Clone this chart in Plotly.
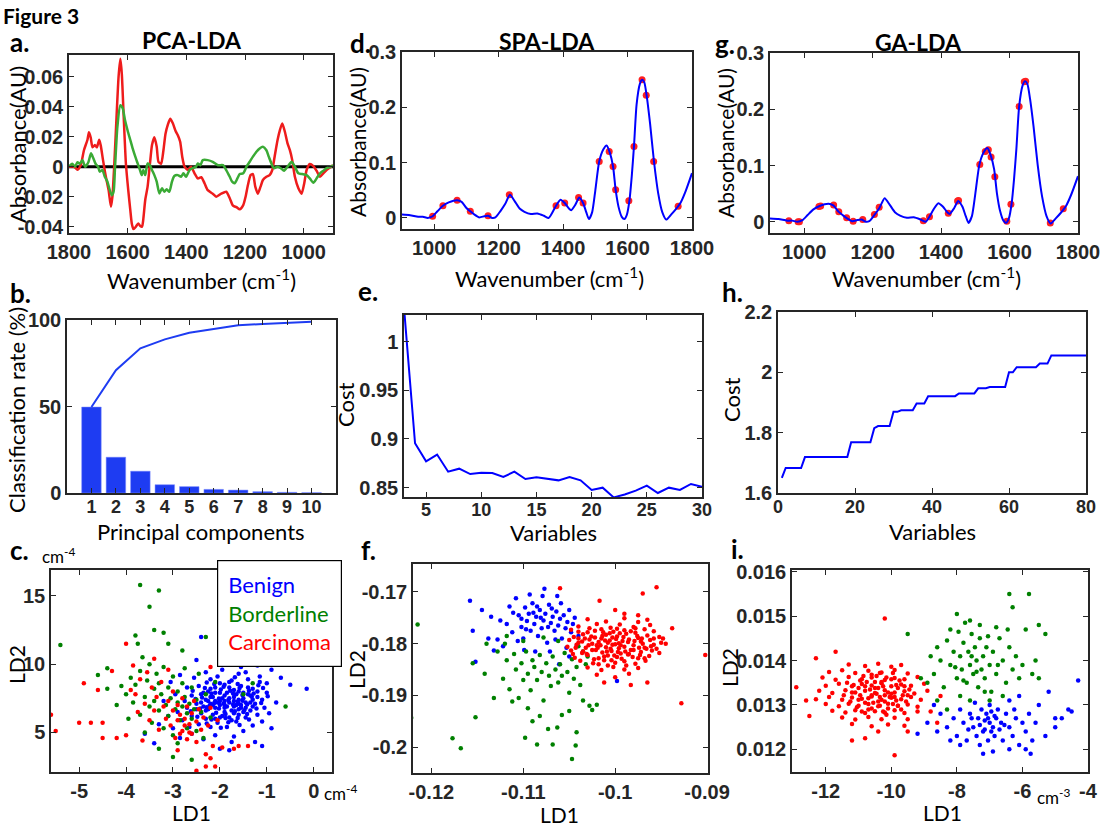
import plotly.graph_objects as go

W, H = 1100, 827

# ---------------- data ----------------
# Panel a: PCA-LDA loadings
a_red_wn = [1800,1783,1771,1760,1749,1737,1732,1726,1720,1711,1705,1697,1692,1684,1675,1665,1657,1652,1646,1638,1631,1625,1620,1614,1606,1598,1591,1586,1580,1572,1564,1557,1551,1547,1540,1532,1524,1517,1509,1501,1495,1486,1478,1471,1463,1455,1446,1437,1429,1421,1414,1406,1395,1384,1372,1361,1349,1338,1327,1310,1298,1281,1264,1252,1241,1229,1218,1206,1198,1190,1181,1173,1165,1156,1147,1139,1127,1116,1107,1099,1089,1081,1073,1064,1055,1047,1039,1030,1018,1007,998,990,979,967,956,944,933,922,907,900]
a_red_val = [0.0,0.0,-0.002,0.001,0.011,0.018,0.023,0.0195,0.013,0.0144,0.0129,0.018,0.0144,0.0044,-0.006,-0.0156,-0.0267,-0.02,0.0,0.033,0.06,0.072,0.062,0.0356,0.002,-0.0156,-0.029,-0.0378,-0.0416,-0.04,-0.0378,-0.0396,-0.04,-0.0356,-0.022,-0.0133,0.002,0.0144,0.0196,0.0133,0.0033,0.002,0.011,0.022,0.028,0.032,0.029,0.024,0.021,0.0167,0.0067,0.0,-0.002,0.0,-0.0044,-0.0078,-0.007,-0.011,-0.0156,-0.018,-0.02,-0.018,-0.0167,-0.021,-0.026,-0.027,-0.0284,-0.0256,-0.02,-0.0122,-0.0056,-0.0049,-0.0133,-0.018,-0.0133,-0.0089,-0.0067,-0.0056,-0.0022,0.0067,0.0178,0.0244,0.0289,0.0233,0.0156,0.011,0.0044,-0.0067,-0.0144,-0.018,-0.011,-0.0022,0.0018,0.0004,-0.0027,-0.0067,-0.0044,-0.0022,0.0,0.001]
a_green_wn = [1800,1789,1780,1771,1763,1754,1745,1734,1725,1717,1709,1701,1695,1686,1678,1669,1661,1654,1648,1643,1635,1625,1617,1609,1600,1591,1583,1574,1566,1558,1552,1547,1540,1532,1524,1517,1509,1501,1492,1483,1475,1467,1458,1449,1441,1429,1418,1410,1401,1389,1378,1367,1361,1352,1344,1327,1310,1292,1275,1264,1252,1244,1235,1226,1218,1206,1195,1184,1173,1161,1150,1139,1127,1119,1110,1101,1089,1078,1067,1055,1041,1030,1018,1005,990,979,967,956,944,933,922,907,900]
a_green_val = [0.0,0.002,0.0,0.003,0.002,0.0044,0.0,0.003,0.0089,0.0056,0.0018,0.0,-0.0033,-0.0022,-0.0067,-0.01,-0.0156,-0.019,-0.0167,0.0,0.0267,0.041,0.039,0.031,0.024,0.0178,0.0122,0.0067,0.0022,-0.0022,-0.0056,-0.0022,-0.0056,0.0022,0.001,-0.0022,-0.0056,-0.01,-0.0178,-0.0144,-0.0167,-0.0151,-0.0167,-0.01,-0.0062,-0.0056,-0.0067,-0.0044,-0.0067,-0.0022,-0.001,0.0,0.0022,0.001,0.0044,0.0044,0.0033,0.001,0.001,-0.0022,-0.0067,-0.01,-0.011,-0.0078,-0.0049,-0.0044,0.0,0.0033,0.0067,0.01,0.0122,0.0133,0.011,0.0067,0.0022,-0.001,0.0,-0.001,-0.0027,0.0,0.0033,0.0,-0.0044,-0.0049,-0.0056,-0.0078,-0.0107,-0.0078,-0.0044,-0.0027,-0.001,0.0,0.001]

# Panels d, g: mean spectrum
spec_wn = [900,925,950,965,980,995,1010,1027,1045,1071,1085,1100,1112,1125,1140,1155,1167,1180,1190,1205,1220,1235,1250,1265,1280,1300,1320,1340,1355,1365,1378,1392,1405,1418,1425,1438,1450,1462,1472,1480,1490,1500,1512,1525,1535,1545,1555,1563,1572,1582,1590,1598,1606,1613,1620,1628,1638,1645,1652,1660,1670,1682,1695,1708,1720,1735,1750,1765,1780,1800]
spec_abs = [0.006,0.005,0.002,0.002,0.0,0.003,0.012,0.022,0.028,0.032,0.029,0.018,0.012,0.006,0.001,0.003,0.004,0.0,0.001,0.012,0.025,0.042,0.03,0.017,0.011,0.007,0.008,0.004,0.0,0.008,0.022,0.033,0.027,0.017,0.014,0.024,0.037,0.027,0.01,-0.002,0.01,0.05,0.102,0.124,0.131,0.118,0.093,0.051,0.02,0.002,-0.002,0.006,0.032,0.075,0.13,0.205,0.242,0.25,0.245,0.218,0.17,0.102,0.045,0.01,-0.003,0.006,0.016,0.028,0.048,0.081]
spa_wn = [995,1027,1071,1112,1167,1233,1378,1405,1448,1462,1512,1543,1555,1563,1604,1620,1645,1658,1681,1757]
spa_abs = [0.003,0.022,0.032,0.012,0.004,0.042,0.022,0.027,0.037,0.027,0.102,0.12,0.093,0.051,0.031,0.129,0.25,0.222,0.102,0.021]
ga_wn = [955,982,986,1043,1048,1086,1101,1124,1143,1171,1205,1219,1348,1366,1421,1448,1451,1513,1529,1538,1546,1557,1592,1604,1628,1643,1647,1719,1757]
ga_abs = [0.002,0.0,0.0,0.027,0.028,0.03,0.018,0.007,0.001,0.004,0.013,0.026,0.002,0.009,0.015,0.037,0.038,0.102,0.125,0.128,0.115,0.08,0.001,0.031,0.205,0.249,0.25,-0.002,0.023]

# Panel b
pc = [1,2,3,4,5,6,7,8,9,10]
pc_rate = [49.7,20.7,12.6,4.8,3.7,2.1,1.7,0.8,0.4,0.2]
pc_cum = [49.7,71,83.6,88.8,92.6,94.8,96.9,97.7,98.5,99]

# Panel e
spa_nvar = list(range(3, 31))
spa_cost = [1.035,0.8956,0.877,0.884,0.8664,0.8695,0.864,0.8654,0.865,0.861,0.8664,0.8589,0.8606,0.8589,0.8575,0.861,0.8575,0.8476,0.85,0.84,0.843,0.847,0.852,0.8445,0.85,0.8476,0.8538,0.851]

# Panel h
ga_nvar = list(range(1, 81))
ga_cost = [1.65,1.683,1.683,1.683,1.683,1.683,1.719,1.719,1.719,1.719,1.719,1.719,1.719,1.719,1.719,1.719,1.719,1.719,
           1.768,1.768,1.768,1.768,1.768,1.768,1.815,1.822,1.822,1.822,1.822,1.869,1.869,1.874,1.874,1.874,1.874,
           1.897,1.897,1.897,1.921,1.921,1.921,1.921,1.921,1.921,1.921,1.921,1.930,1.930,1.930,1.930,1.930,
           1.947,1.947,1.947,1.951,1.951,1.951,1.951,1.951,2.0,2.0,2.017,2.017,2.017,2.017,2.017,2.017,
           2.029,2.029,2.029,2.056,2.056,2.056,2.056,2.056,2.056,2.056,2.056,2.056,2.056]

# Panel c: PCA-LDA scores
c_benign = [(-0.15,8.2),(-0.5,8.5),(-0.7,9.0),(-0.9,5.3),(-0.9,9.6),(-1.0,7.9),(-1.05,6.8),(-1.1,7.4),(-1.1,5.8),(-1.15,8.7),(-1.2,6.3),(-1.2,9.9),(-1.25,7.1),(-1.3,8.2),(-1.3,5.5),(-1.35,6.6),(-1.35,7.7),(-1.4,10.2),(-1.4,8.9),(-1.45,7.2),(-1.45,6.1),(-1.5,7.9),(-1.5,5.1),(-1.55,6.8),(-1.55,8.4),(-1.6,7.4),(-1.6,6.3),(-1.6,9.3),(-1.65,7.0),(-1.65,5.8),(-1.7,8.1),(-1.7,7.6),(-1.7,4.7),(-1.75,6.6),(-1.75,8.8),(-1.8,7.2),(-1.8,6.1),(-1.8,3.7),(-1.85,7.9),(-1.85,5.4),(-1.9,7.0),(-1.9,8.5),(-1.9,6.5),(-1.95,7.5),(-1.95,9.6),(-2.0,6.1),(-2.0,7.9),(-2.0,3.8),(-2.0,10.5),(-2.05,7.2),(-2.05,5.7),(-2.1,6.8),(-2.1,8.3),(-2.1,4.8),(-2.15,7.6),(-2.15,6.3),(-2.2,7.1),(-2.2,8.9),(-2.2,5.4),(-2.25,6.7),(-2.25,8.0),(-2.3,7.4),(-2.3,6.0),(-2.3,9.4),(-2.35,6.9),(-2.35,4.5),(-2.4,7.8),(-2.4,12.0),(-2.4,6.4),(-2.45,5.6),(-2.45,8.4),(-2.5,7.1),(-2.5,6.7),(-2.55,9.0),(-2.6,6.2),(-2.6,7.7),(-2.6,4.9),(-2.65,5.4),(-2.7,8.3),(-2.7,6.8),(-2.75,7.3),(-2.8,5.9),(-2.85,9.2),(-2.9,6.5),(-2.95,7.8),(-3.0,5.3),(-3.05,8.7),(-3.1,6.2),(-3.2,7.3),(-3.3,5.6),(-3.4,4.2),(-3.6,4.9),(-1.25,4.3),(-1.1,4.0),(-2.05,9.1),(-1.55,9.8),(-0.8,7.2),(-0.95,6.4),(-1.0,8.6),(-1.75,4.3),(-2.85,4.6),(-1.45,9.4),(-1.15,9.1),(-2.5,10.3),
            (-1.6,7.1),(-1.7,6.9),(-1.8,7.5),(-1.9,7.7),(-2.0,7.3),(-2.1,7.3),(-2.2,7.6),(-1.5,7.5),(-1.4,7.8),(-1.3,6.9),(-1.5,6.5),(-1.7,6.4),(-1.9,6.8),(-2.1,6.0),(-2.3,6.6),(-2.2,8.2),(-2.0,8.6),(-1.8,8.3),(-1.6,8.0),(-1.4,8.3),(-1.2,7.6),(-1.3,7.4),(-1.75,5.9),(-1.95,6.2),(-2.4,7.2),(-2.35,7.9),(-1.65,7.8),(-1.85,6.9),(-2.0,7.0),(-1.55,7.0),(-1.45,6.8),(-1.7,7.3),(-1.9,7.3),(-2.15,7.0),(-2.25,7.3),(-1.35,7.2),(-1.2,8.0),(-1.6,6.7),(-2.1,7.9),(-1.8,8.7),
            (-1.62,7.25),(-1.72,7.05),(-1.82,7.38),(-1.92,7.12),(-2.02,7.48),(-2.12,7.15),(-2.22,6.95),(-1.52,7.32),(-1.42,7.05),(-1.32,7.62),(-1.48,6.62),(-1.68,6.55),(-1.88,6.35),(-2.08,6.45),(-2.28,6.85),(-2.18,7.85),(-1.98,8.15),(-1.78,8.05),(-1.58,8.25),(-1.38,8.05),(-1.28,7.85),(-1.22,6.75),(-1.62,6.05),(-1.82,5.75),(-2.42,6.75),(-2.32,8.25),(-1.72,7.85),(-2.02,6.75),(-1.92,8.35),(-1.52,7.75),(-1.62,8.55),(-2.12,8.55),(-2.38,7.55),(-1.42,6.35),(-1.12,7.15),(-1.08,8.25),(-2.52,7.45),(-2.58,8.05),(-1.88,6.05),(-2.18,5.95),(-1.58,5.55),(-1.38,5.95),(-2.48,6.15),(-2.28,5.65),(-1.98,5.35),(-0.98,7.65),(-1.68,9.05),(-2.28,8.65),(-1.18,8.45),(-2.62,6.55)]
c_border = [(-3.7,15.8),(-3.3,15.4),(-3.5,14.2),(-3.4,12.5),(-3.2,12.3),(-5.4,11.4),(-3.8,12.1),(-2.3,12.0),(-4.4,9.7),(-4.6,9.2),(-4.4,8.2),(-0.6,6.9),(-2.6,3.0),(-3.0,3.2),(-2.8,11.0),(-3.75,11.5),(-3.1,11.5),(-4.1,8.4),(-4.0,7.8),(-3.9,9.0),(-3.85,7.2),(-3.8,8.5),(-3.7,6.3),(-3.7,9.5),(-3.6,7.6),(-3.55,8.8),(-3.5,6.9),(-3.5,10.0),(-3.45,5.7),(-3.4,8.2),(-3.4,7.3),(-3.35,9.3),(-3.3,6.6),(-3.3,8.6),(-3.25,7.8),(-3.2,5.3),(-3.2,9.8),(-3.15,7.0),(-3.1,8.3),(-3.1,6.2),(-3.05,7.5),(-3.0,9.1),(-3.0,4.8),(-2.95,6.7),(-2.9,8.0),(-2.9,7.2),(-2.85,5.9),(-2.8,6.9),(-2.8,8.6),(-2.75,7.6),(-2.7,6.4),(-2.7,5.3),(-2.65,7.1),(-2.6,8.3),(-2.6,6.0),(-2.55,6.7),(-2.5,7.4),(-2.5,5.1),(-2.45,9.3),(-2.4,6.5),(-2.3,7.8),(-2.2,6.1),(-2.1,8.7),(-1.5,7.8),(-1.3,8.6),(-3.6,5.0),(-2.9,4.2),(-3.3,3.8),(-4.2,7.0),(-3.95,6.0),(-3.65,10.5),(-2.35,4.6),(-2.75,9.7)]
c_carc = [(-5.6,6.3),(-5.5,5.1),(-5.0,5.7),(-4.75,5.7),(-4.5,5.7),(-4.5,4.6),(-4.2,4.6),(-4.0,4.8),(-4.9,8.6),(-4.6,8.1),(-4.0,11.5),(-4.3,9.5),(-2.3,2.5),(-2.1,2.5),(-2.5,2.2),(-1.6,4.0),(-3.85,9.9),(-3.8,7.8),(-3.75,6.5),(-3.7,8.9),(-3.6,7.1),(-3.55,9.4),(-3.5,5.9),(-3.45,8.3),(-3.4,6.6),(-3.35,7.6),(-3.3,5.2),(-3.25,8.7),(-3.2,6.9),(-3.15,6.0),(-3.1,7.3),(-3.05,5.5),(-3.0,8.0),(-3.0,6.6),(-2.95,4.6),(-2.9,7.0),(-2.9,5.9),(-2.85,6.3),(-2.8,7.5),(-2.8,5.1),(-2.75,6.0),(-2.7,4.5),(-2.7,6.9),(-2.65,5.6),(-2.6,6.4),(-2.6,4.9),(-2.55,7.3),(-2.5,5.8),(-2.5,4.3),(-2.45,6.7),(-2.4,5.2),(-2.35,6.1),(-2.3,3.4),(-2.25,5.5),(-2.2,6.8),(-2.15,4.0),(-2.05,5.9),(-1.95,3.9),(-1.7,3.8),(-2.9,3.7),(-2.2,3.1),(-3.4,10.4),(-3.9,8.1),(-3.65,4.4),(-2.65,5.0),(-2.75,5.5),(-2.85,4.9),(-3.1,9.6),(-2.2,9.8),(-1.4,4.0)]

# Panel f: SPA-LDA scores
f_blue = [(-0.1158,-0.1717),(-0.1155,-0.1775),(-0.1145,-0.1735),(-0.1135,-0.1748),(-0.1128,-0.1792),(-0.1132,-0.1813),(-0.1152,-0.1835),(-0.1077,-0.1694),(-0.1063,-0.1708),(-0.0998,-0.1872),(-0.1118,-0.1762),(-0.1112,-0.1778),(-0.1108,-0.1712),(-0.1105,-0.1745),(-0.1102,-0.1768),(-0.1100,-0.1790),(-0.1098,-0.1730),(-0.1096,-0.1756),(-0.1094,-0.1742),(-0.1092,-0.1775),(-0.1090,-0.1722),(-0.1088,-0.1762),(-0.1086,-0.1748),(-0.1084,-0.1785),(-0.1082,-0.1735),(-0.1080,-0.1770),(-0.1078,-0.1755),(-0.1076,-0.1742),(-0.1074,-0.1798),(-0.1072,-0.1725),(-0.1070,-0.1760),(-0.1068,-0.1748),(-0.1066,-0.1775),(-0.1064,-0.1738),(-0.1062,-0.1765),(-0.1060,-0.1752),(-0.1058,-0.1790),(-0.1056,-0.1745),(-0.1054,-0.1770),(-0.1052,-0.1758),(-0.1050,-0.1735),(-0.1048,-0.1778),(-0.1046,-0.1762),(-0.1044,-0.1750),(-0.1042,-0.1805),(-0.1122,-0.1805),(-0.1115,-0.1728),(-0.1106,-0.1795),(-0.1099,-0.1812),(-0.1093,-0.1705),(-0.1087,-0.1815),(-0.1079,-0.1708),(-0.1071,-0.1815),(-0.1065,-0.1792),(-0.1059,-0.1722),(-0.1053,-0.1808),(-0.1102,-0.1752),(-0.1089,-0.1740),(-0.1081,-0.1750),(-0.1073,-0.1768),(-0.1097,-0.1772),(-0.1085,-0.1728),(-0.1069,-0.1732),(-0.1111,-0.1740),(-0.1125,-0.1755),(-0.1040,-0.1785),(-0.1050,-0.1825),(-0.1138,-0.1790),(-0.1061,-0.1840)]
f_green = [(-0.1215,-0.1763),(-0.1222,-0.1943),(-0.1177,-0.1983),(-0.1168,-0.2002),(-0.1152,-0.1942),(-0.1068,-0.1995),(-0.1047,-0.2023),(-0.1043,-0.1997),(-0.1042,-0.1971),(-0.1063,-0.1962),(-0.1073,-0.1965),(-0.1098,-0.1982),(-0.1085,-0.1995),(-0.1155,-0.1838),(-0.1142,-0.1858),(-0.1132,-0.1905),(-0.1128,-0.1815),(-0.1122,-0.1868),(-0.1118,-0.1832),(-0.1115,-0.1888),(-0.1110,-0.1820),(-0.1108,-0.1850),(-0.1105,-0.1905),(-0.1102,-0.1838),(-0.1100,-0.1870),(-0.1097,-0.1815),(-0.1095,-0.1858),(-0.1092,-0.1890),(-0.1090,-0.1832),(-0.1088,-0.1845),(-0.1085,-0.1870),(-0.1082,-0.1822),(-0.1080,-0.1855),(-0.1078,-0.1910),(-0.1075,-0.1838),(-0.1072,-0.1862),(-0.1070,-0.1882),(-0.1068,-0.1825),(-0.1065,-0.1850),(-0.1062,-0.1875),(-0.1060,-0.1840),(-0.1058,-0.1862),(-0.1055,-0.1818),(-0.1052,-0.1855),(-0.1050,-0.1895),(-0.1047,-0.1830),(-0.1045,-0.1868),(-0.1042,-0.1845),(-0.1038,-0.1880),(-0.1035,-0.1910),(-0.1032,-0.1840),(-0.1028,-0.1920),(-0.1025,-0.1928),(-0.1020,-0.1918),(-0.1030,-0.1825),(-0.1035,-0.1815),(-0.1040,-0.1805),(-0.1082,-0.1940),(-0.1095,-0.1925),(-0.1112,-0.1912),(-0.1120,-0.1800),(-0.1100,-0.1795),(-0.1078,-0.1788),(-0.1062,-0.1795),(-0.1090,-0.1950),(-0.1058,-0.1938),(-0.1140,-0.1800),(-0.1118,-0.1785),(-0.1050,-0.1930)]
f_red = [(-0.1030,-0.1753),(-0.1010,-0.1757),(-0.0990,-0.1751),(-0.0975,-0.1758),(-0.0965,-0.1754),
         (-0.1040,-0.1767),(-0.1020,-0.1762),(-0.1005,-0.1769),(-0.0995,-0.1763),(-0.0980,-0.1768),(-0.0962,-0.1764),
         (-0.1048,-0.1773),(-0.1030,-0.1778),(-0.1015,-0.1772),(-0.1002,-0.1777),(-0.0990,-0.1774),(-0.0978,-0.1779),(-0.0968,-0.1772),(-0.0958,-0.1776),
         (-0.1045,-0.1787),(-0.1035,-0.1782),(-0.1022,-0.1788),(-0.1010,-0.1783),(-0.0998,-0.1786),(-0.0988,-0.1781),(-0.0975,-0.1789),(-0.0965,-0.1784),(-0.0952,-0.1787),
         (-0.1050,-0.1793),(-0.1040,-0.1798),(-0.1028,-0.1792),(-0.1018,-0.1797),(-0.1006,-0.1794),(-0.0996,-0.1799),(-0.0985,-0.1792),(-0.0972,-0.1796),(-0.0962,-0.1793),(-0.0950,-0.1798),
         (-0.1052,-0.1806),(-0.1042,-0.1802),(-0.1032,-0.1808),(-0.1020,-0.1803),(-0.1010,-0.1807),(-0.1000,-0.1801),(-0.0990,-0.1806),(-0.0980,-0.1803),(-0.0968,-0.1808),(-0.0958,-0.1802),
         (-0.1048,-0.1813),(-0.1036,-0.1818),(-0.1025,-0.1812),(-0.1014,-0.1817),(-0.1004,-0.1814),(-0.0994,-0.1819),(-0.0983,-0.1812),(-0.0972,-0.1816),(-0.0960,-0.1813),(-0.0952,-0.1818),
         (-0.1044,-0.1827),(-0.1030,-0.1822),(-0.1018,-0.1828),(-0.1008,-0.1823),(-0.0998,-0.1826),(-0.0986,-0.1821),(-0.0975,-0.1828),(-0.0963,-0.1824),
         (-0.1038,-0.1833),(-0.1024,-0.1838),(-0.1012,-0.1832),(-0.1000,-0.1837),(-0.0990,-0.1834),(-0.0978,-0.1839),(-0.0967,-0.1833),
         (-0.1030,-0.1846),(-0.1015,-0.1851),(-0.1002,-0.1845),(-0.0990,-0.1850),(-0.0975,-0.1847),
         (-0.1020,-0.1860),(-0.1000,-0.1865),(-0.0985,-0.1858),
         (-0.0955,-0.1691),(-0.0970,-0.1703),(-0.1017,-0.1717),(-0.0928,-0.1915),(-0.0902,-0.1822),(-0.0938,-0.1770),(-0.1060,-0.1693),(-0.1012,-0.1875),(-0.0983,-0.1880),(-0.0965,-0.1875),(-0.1000,-0.1735),(-0.0990,-0.1742),(-0.0975,-0.1745),(-0.0948,-0.1790),(-0.0945,-0.1800),
         (-0.1025,-0.1800),(-0.1015,-0.1790),(-0.1005,-0.1810),(-0.0995,-0.1780),(-0.0985,-0.1820),(-0.1035,-0.1815),(-0.1012,-0.1825),(-0.0992,-0.1795),(-0.1022,-0.1775),(-0.1003,-0.1788),(-0.0980,-0.1812),(-0.0970,-0.1800),(-0.1040,-0.1790),(-0.1008,-0.1798),(-0.0997,-0.1816),
         (-0.1036,-0.1796),(-0.1026,-0.1786),(-0.1016,-0.1803),(-0.1006,-0.1780),(-0.0996,-0.1809),(-0.0986,-0.1797),(-0.0976,-0.1785),(-0.0966,-0.1810),(-0.1031,-0.1820),(-0.1021,-0.1812),(-0.1011,-0.1794),(-0.1001,-0.1823),(-0.0991,-0.1787),(-0.0981,-0.1826),(-0.0971,-0.1790),(-0.0961,-0.1805),(-0.1043,-0.1808),(-0.1033,-0.1790),(-0.1023,-0.1830),(-0.1013,-0.1778),(-0.1003,-0.1802),(-0.0993,-0.1829),(-0.0983,-0.1776),(-0.0973,-0.1822),(-0.1028,-0.1770),(-0.1018,-0.1840),(-0.1008,-0.1842),(-0.0998,-0.1771),(-0.0988,-0.1842),(-0.0978,-0.1770),(-0.0968,-0.1828),(-0.0958,-0.1790),(-0.1046,-0.1820),(-0.1040,-0.1777),(-0.0955,-0.1810),(-0.1019,-0.1808),(-0.1009,-0.1815),(-0.0999,-0.1791),(-0.0989,-0.1815),(-0.0979,-0.1795),(-0.1029,-0.1803),(-0.1014,-0.1785),(-0.0994,-0.1803),(-0.0974,-0.1808),(-0.1004,-0.1832)]

# Panel i: GA-LDA scores
i_red = [(-11.3,0.01391),(-10.8,0.01388),(-10.4,0.01393),(-10.0,0.01386),(-9.7,0.0139),
         (-11.9,0.01374),(-11.5,0.01378),(-11.1,0.01372),(-10.7,0.01377),(-10.3,0.01373),(-9.9,0.01379),(-9.5,0.01371),
         (-12.1,0.01362),(-11.7,0.01357),(-11.3,0.01363),(-10.9,0.01358),(-10.6,0.01362),(-10.2,0.01356),(-9.9,0.01361),(-9.6,0.01358),(-9.2,0.01363),
         (-12.0,0.01343),(-11.6,0.01348),(-11.2,0.01342),(-10.9,0.01347),(-10.6,0.01344),(-10.3,0.01349),(-10.0,0.01342),(-9.7,0.01346),(-9.4,0.01343),(-9.0,0.01348),
         (-12.2,0.01332),(-11.8,0.01327),(-11.4,0.01333),(-11.1,0.01328),(-10.8,0.01332),(-10.5,0.01327),(-10.2,0.01333),(-9.9,0.01328),(-9.6,0.01331),(-9.3,0.01326),(-8.9,0.01332),
         (-12.3,0.01313),(-11.9,0.01318),(-11.5,0.01312),(-11.2,0.01317),(-10.9,0.01314),(-10.6,0.01319),(-10.3,0.01312),(-10.0,0.01316),(-9.7,0.01313),(-9.4,0.01318),(-9.1,0.01312),
         (-12.0,0.01302),(-11.6,0.01297),(-11.3,0.01303),(-11.0,0.01298),(-10.7,0.01302),(-10.4,0.01297),(-10.1,0.01303),(-9.8,0.01298),(-9.5,0.01301),(-9.2,0.01296),
         (-11.8,0.01287),(-11.4,0.01283),(-11.1,0.01288),(-10.8,0.01282),(-10.5,0.01286),(-10.2,0.01283),(-9.9,0.01288),(-9.6,0.01282),(-9.2,0.01285),
         (-11.5,0.01272),(-11.1,0.01267),(-10.7,0.01273),(-10.3,0.01268),(-9.9,0.01271),(-9.5,0.01268),
         (-11.2,0.01257),(-10.6,0.01252),(-10.1,0.01256),(-9.6,0.01253),
         (-12.9,0.0134),(-12.5,0.01275),(-12.3,0.01405),(-11.7,0.0142),(-10.2,0.01495),(-9.9,0.01187),(-11.2,0.0122),(-10.8,0.01225),(-8.8,0.01285),(-8.5,0.0132),(-8.6,0.0126),(-12.6,0.0131),(-9.5,0.0124),(-10.4,0.0124),
         (-10.6,0.01322),(-10.4,0.01338),(-10.2,0.01308),(-10.0,0.01325),(-10.8,0.01305),(-10.5,0.01352),(-10.1,0.01292),(-9.8,0.01338),(-11.0,0.01338),(-10.7,0.0129),(-10.35,0.01318),(-9.85,0.0131),
         (-10.65,0.01335),(-10.45,0.01325),(-10.25,0.01342),(-10.05,0.01318),(-9.85,0.01345),(-9.65,0.01322),(-10.95,0.01322),(-11.15,0.01345),(-10.75,0.01352),(-10.55,0.01305),(-10.35,0.01298),(-10.15,0.01362),(-9.95,0.01302),(-9.75,0.01355),(-9.55,0.01308),(-11.05,0.01295),(-10.85,0.01365),(-11.25,0.01308),(-10.45,0.01365),(-10.25,0.01285),(-9.45,0.01335),(-10.9,0.01285),(-10.6,0.01368),(-10.0,0.01358),(-9.7,0.0129),(-11.35,0.0135),(-10.3,0.01352),(-10.7,0.01315),(-10.1,0.01328),(-9.9,0.01318),(-10.5,0.01338),(-10.8,0.01342),(-11.0,0.01312),(-10.2,0.01322),(-9.6,0.01342),(-10.4,0.01308),(-11.2,0.01328),(-9.8,0.01298),(-10.6,0.01292),(-10.95,0.01355),(-10.15,0.01278),(-9.5,0.01322),(-11.45,0.01322),(-10.35,0.01372),(-9.95,0.01372)]
i_green = [(-6.4,0.0155),(-5.8,0.0155),(-6.3,0.0152),(-8.0,0.01505),(-9.5,0.0146),(-5.5,0.0148),(-5.3,0.0146),(-5.9,0.0147),(-8.6,0.0143),(-8.5,0.0140),(-8.7,0.0137),(-8.9,0.0135),(-9.1,0.0136),(-8.3,0.01445),(-8.2,0.0139),(-8.1,0.0142),(-8.0,0.0136),(-7.95,0.01465),(-7.9,0.0141),(-7.85,0.0138),(-7.8,0.0144),(-7.75,0.01485),(-7.7,0.0135),(-7.65,0.0142),(-7.6,0.0139),(-7.55,0.0146),(-7.5,0.0137),(-7.45,0.0143),(-7.4,0.0140),(-7.35,0.0134),(-7.3,0.0145),(-7.25,0.0138),(-7.2,0.0141),(-7.15,0.0136),(-7.1,0.0143),(-7.0,0.0139),(-6.95,0.0133),(-6.9,0.0142),(-6.8,0.0137),(-6.7,0.0145),(-6.6,0.0140),(-6.5,0.0135),(-6.4,0.0143),(-6.3,0.0138),(-6.2,0.0141),(-6.1,0.0136),(-6.0,0.0139),(-5.7,0.0137),(-8.4,0.0134),(-7.9,0.0132),(-7.6,0.0131),(-7.0,0.0131),(-6.6,0.0132),(-8.2,0.0147),(-7.6,0.0149),(-6.8,0.01475),(-7.3,0.0148),(-8.8,0.0141),(-7.8,0.01355),(-7.4,0.01375),(-7.05,0.01455),(-6.75,0.0139),(-8.05,0.01385),(-7.55,0.0141),(-7.15,0.0133),(-6.45,0.0147),(-5.5,0.0136),(-5.6,0.0140),(-8.6,0.0131),(-8.3,0.0129)]
i_blue = [(-4.3,0.01355),(-4.5,0.01285),(-4.8,0.0127),(-5.0,0.0127),(-5.2,0.0133),(-9.2,0.01235),(-7.2,0.0119),(-6.9,0.01195),(-8.5,0.0128),(-8.3,0.0125),(-8.1,0.0127),(-8.0,0.0123),(-7.9,0.0129),(-7.8,0.0126),(-7.7,0.0122),(-7.6,0.0128),(-7.5,0.0125),(-7.45,0.01305),(-7.4,0.0123),(-7.35,0.0127),(-7.3,0.01255),(-7.25,0.0129),(-7.2,0.0124),(-7.15,0.01265),(-7.1,0.0128),(-7.05,0.0122),(-7.0,0.0126),(-6.95,0.01285),(-6.9,0.0125),(-6.85,0.0123),(-6.8,0.0127),(-6.75,0.0129),(-6.7,0.01245),(-6.65,0.0126),(-6.6,0.0122),(-6.5,0.0128),(-6.4,0.0125),(-6.3,0.0123),(-6.2,0.0127),(-6.1,0.0121),(-6.0,0.0126),(-5.9,0.0124),(-5.8,0.0128),(-5.7,0.0122),(-5.6,0.0126),(-5.5,0.0130),(-5.9,0.0120),(-6.4,0.0120),(-7.9,0.0121),(-8.6,0.0124),(-8.9,0.0126),(-8.7,0.0130),(-6.1,0.0132),(-6.4,0.0131),(-7.0,0.0130),(-7.3,0.0121),(-6.85,0.01275),(-7.15,0.01245),(-6.55,0.01255),(-7.55,0.0127),(-5.3,0.0123),(-5.0,0.0125),(-4.6,0.0129),(-6.25,0.0129),(-8.2,0.0122),(-7.65,0.01245),(-6.95,0.0124),(-7.05,0.0127),(-5.75,0.0119)]

# ---------------- styling ----------------
TXT = "Lato, Open Sans, sans-serif"
TICK_FAMILY = "Liberation Sans Narrow, Liberation Sans, sans-serif"
AX = "#262626"
BLUE, GREEN, RED = "#0000ff", "#008000", "#ff0000"

fig = go.Figure()
layout = dict(template="none", width=W, height=H,
              margin=dict(l=0, r=0, t=0, b=0, pad=0, autoexpand=False),
              paper_bgcolor="white", plot_bgcolor="white", showlegend=False)

def ref(n):
    return ("x" if n == 1 else f"x{n}"), ("y" if n == 1 else f"y{n}")

def add_axes(n, box, xr, yr, xt, xl, yt, yl, xsize=20, ysize=20, xstand=0):
    x0, y0, x1, y1 = box
    common = dict(ticks="inside", ticklen=5, tickwidth=1, tickcolor=AX, mirror="ticks",
                  showline=True, linecolor=AX, linewidth=1.5, showgrid=False, zeroline=False,
                  automargin=False, ticklabeloverflow="allow")
    xk = "xaxis" if n == 1 else f"xaxis{n}"
    yk = "yaxis" if n == 1 else f"yaxis{n}"
    xa, ya = ref(n)
    layout[xk] = dict(domain=[x0 / W, x1 / W], range=xr, anchor=ya, tickvals=xt, ticktext=xl,
                      tickfont=dict(family=TICK_FAMILY, size=xsize, color=AX, weight="bold"),
                      ticklabelstandoff=xstand, **common)
    layout[yk] = dict(domain=[1 - y1 / H, 1 - y0 / H], range=yr, anchor=xa, tickvals=yt, ticktext=yl,
                      tickfont=dict(family=TICK_FAMILY, size=ysize, color=AX, weight="bold"), **common)

# panel boxes (left, top, right, bottom) in px
add_axes(1, (69, 55, 333, 233), [1800, 900], [-0.0442, 0.0745],
         [1800, 1600, 1400, 1200, 1000], ["1800", "1600", "1400", "1200", "1000"],
         [-0.04, -0.02, 0, 0.02, 0.04, 0.06], ["-0.04", "-0.02", "0", "0.02", "0.04", "0.06"])
add_axes(2, (402, 52, 692, 229), [900, 1800], [-0.02, 0.3],
         [1000, 1200, 1400, 1600, 1800], ["1000", "1200", "1400", "1600", "1800"],
         [0, 0.1, 0.2, 0.3], ["0", "0.1", "0.2", "0.3"])
add_axes(3, (770, 53, 1078, 233), [900, 1800], [-0.02, 0.3],
         [1000, 1200, 1400, 1600, 1800], ["1000", "1200", "1400", "1600", "1800"],
         [0, 0.1, 0.2, 0.3], ["0", "0.1", "0.2", "0.3"])
add_axes(4, (67, 320, 336, 493), [0, 11], [0, 100],
         pc, [str(v) for v in pc], [0, 50, 100], ["0", "50", "100"], xsize=18, xstand=-3)
add_axes(5, (404, 315, 702, 497), [3, 30], [0.8404, 1.0274],
         [5, 10, 15, 20, 25, 30], ["5", "10", "15", "20", "25", "30"],
         [0.85, 0.9, 0.95, 1.0], ["0.85", "0.9", "0.95", "1"], xsize=18, xstand=-4)
add_axes(6, (778, 312, 1086, 493), [0, 80], [1.6, 2.2],
         [0, 20, 40, 60, 80], ["0", "20", "40", "60", "80"],
         [1.6, 1.8, 2.0, 2.2], ["1.6", "1.8", "2", "2.2"], xsize=18, xstand=-3)
add_axes(7, (51, 570, 332, 772), [-5.6, 0.39], [2.1, 16.9],
         [-5, -4, -3, -2, -1, 0], ["-5", "-4", "-3", "-2", "-1", "0"],
         [5, 10, 15], ["5", "10", "15"])
add_axes(8, (413, 564, 708, 773), [-0.122, -0.0899], [-0.205, -0.1646],
         [-0.12, -0.11, -0.1, -0.09], ["-0.12", "-0.11", "-0.1", "-0.09"],
         [-0.2, -0.19, -0.18, -0.17], ["-0.2", "-0.19", "-0.18", "-0.17"])
add_axes(9, (792, 570, 1088, 772), [-13.03, -4], [0.01149, 0.01604],
         [-12, -10, -8, -6, -4], ["-12", "-10", "-8", "-6", "-4"],
         [0.012, 0.013, 0.014, 0.015, 0.016], ["0.012", "0.013", "0.014", "0.015", "0.016"])

def line(n, x, y, color, width, shape="linear"):
    xa, ya = ref(n)
    fig.add_trace(go.Scatter(x=x, y=y, mode="lines", xaxis=xa, yaxis=ya,
                             line=dict(color=color, width=width, shape=shape, smoothing=0.6),
                             hoverinfo="skip"))

def dots(n, pts, color, size=4.5):
    xa, ya = ref(n)
    fig.add_trace(go.Scatter(x=[p[0] for p in pts], y=[p[1] for p in pts], mode="markers",
                             xaxis=xa, yaxis=ya, marker=dict(color=color, size=size, line=dict(width=0)),
                             hoverinfo="skip"))

# a
line(1, [1800, 900], [0, 0], "black", 3)
line(1, a_red_wn, a_red_val, "#ee1c1c", 2.5, "spline")
line(1, a_green_wn, a_green_val, "#3aaa35", 2.5, "spline")
# d
xa, ya = ref(2)
fig.add_trace(go.Scatter(x=spa_wn, y=spa_abs, mode="markers", xaxis=xa, yaxis=ya,
                         marker=dict(color="#ff2020", size=7), hoverinfo="skip"))
line(2, spec_wn, spec_abs, "#0000ff", 2, "spline")
# g
xa, ya = ref(3)
fig.add_trace(go.Scatter(x=ga_wn, y=ga_abs, mode="markers", xaxis=xa, yaxis=ya,
                         marker=dict(color="#ff2020", size=7), hoverinfo="skip"))
line(3, spec_wn, spec_abs, "#0000ff", 2, "spline")
# b
xa, ya = ref(4)
fig.add_trace(go.Bar(x=pc, y=pc_rate, width=0.8, xaxis=xa, yaxis=ya,
                     marker=dict(color="#1e3cf2", line=dict(color="#8090ff", width=0.5)), hoverinfo="skip"))
line(4, pc, pc_cum, "#1e3cf2", 2)
# e, h
line(5, spa_nvar, spa_cost, "#0000ff", 2)
line(6, ga_nvar, ga_cost, "#0000ff", 2)
# c
dots(7, c_benign, BLUE)
dots(7, c_border, GREEN)
dots(7, c_carc, RED)
# f
dots(8, f_blue, BLUE)
dots(8, f_green, GREEN)
dots(8, f_red, RED)
# i
dots(9, i_red, RED)
dots(9, i_green, GREEN)
dots(9, i_blue, BLUE)

# ---------------- text ----------------
ann = []
def text(x, y, s, size=22, bold=False, xanchor="center", angle=0, color="black", family=TXT):
    ann.append(dict(x=x / W, y=1 - y / H, xref="paper", yref="paper", text=s, showarrow=False,
                    xanchor=xanchor, yanchor="middle", textangle=angle,
                    font=dict(family=family, size=size, color=color, weight="bold" if bold else "normal")))

text(1, 16, "Figure 3", 21, True, "left")
text(8, 42, "a.", 26, True, "left");   text(192, 40, "PCA-LDA", 23, True)
text(348, 43, "d.", 26, True, "left"); text(547, 41, "SPA-LDA", 23, True)
text(713, 44, "g.", 26, True, "left"); text(918, 42, "GA-LDA", 23, True)
text(17, 145, "Absorbance(AU)", 22, angle=-90)
text(358, 142, "Absorbance(AU)", 21, angle=-90)
text(725, 143, "Absorbance(AU)", 21, angle=-90)
text(201, 280, "Wavenumber (cm<sup>-1</sup>)", 22)
text(549, 277, "Wavenumber (cm<sup>-1</sup>)", 22)
text(926, 277, "Wavenumber (cm<sup>-1</sup>)", 22)
text(8, 293, "b.", 26, True, "left")
text(356, 291, "e.", 26, True, "left")
text(720, 292, "h.", 26, True, "left")
text(17, 410, "Classification rate (%)", 22, angle=-90)
text(201, 531, "Principal components", 22)
text(345, 405, "Cost", 22, angle=-90)
text(731, 400, "Cost", 22, angle=-90)
text(553, 532, "Variables", 22)
text(932, 531, "Variables", 22)
text(8, 550, "c.", 26, True, "left")
text(40, 555, "cm<sup>-4</sup>", 17, xanchor="left")
text(359, 550, "f.", 26, True, "left")
text(729, 549, "i.", 26, True, "left")
text(16, 665, "LD2", 21, angle=-90)
text(356, 670, "LD2", 21, angle=-90)
text(729, 668, "LD2", 21, angle=-90)
text(191, 812, "LD1", 21)
text(560, 814, "LD1", 21)
text(942, 812, "LD1", 21)
text(322, 792, "cm<sup>-4</sup>", 17, xanchor="left")
text(1035, 796, "cm<sup>-3</sup>", 17, xanchor="left")

# legend box in panel c
ann.append(dict(x=217 / W, y=1 - 560 / H, xref="paper", yref="paper", xanchor="left", yanchor="top",
                showarrow=False, align="left", bgcolor="white", bordercolor="black", borderwidth=1.2,
                borderpad=10,
                text=f"<span style='color:{BLUE}'>Benign</span><br><span style='color:{GREEN}'>Borderline</span><br><span style='color:{RED}'>Carcinoma</span>",
                font=dict(family=TXT, size=22)))

layout["annotations"] = ann
fig.update_layout(**layout)
fig.write_html("out.html")
